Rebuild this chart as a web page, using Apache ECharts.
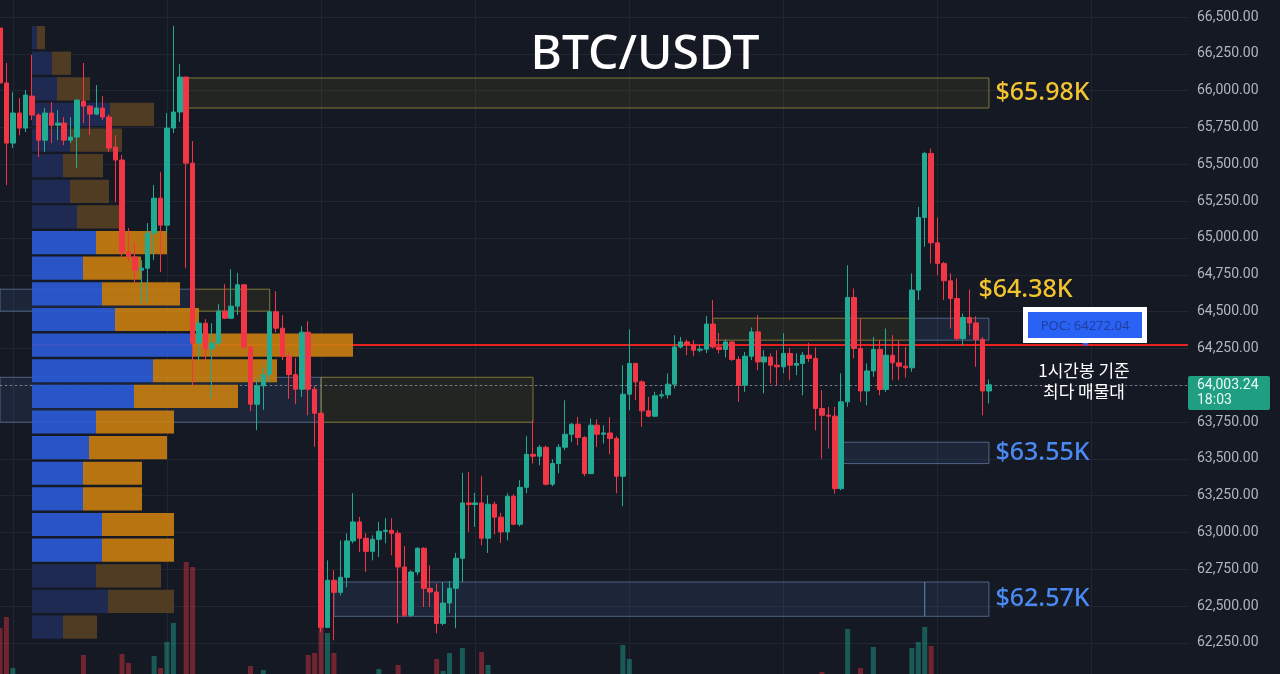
<!DOCTYPE html>
<html>
<head>
<meta charset="utf-8">
<title>BTC/USDT</title>
<script src="https://cdn.jsdelivr.net/npm/echarts@6.0.0/dist/echarts.min.js"></script>
<style>
    html, body { margin: 0; padding: 0; background: #151924; }
    #chart { width: 1280px; height: 674px; }
</style>
</head>
<body>
<div id="chart"></div>
<script>
// 1시간봉 OHLC (왼쪽부터)
const openPrices = [66425,66052,65644,65848,65746,65963,65834,65664,65848,65766,
    65780,65664,65685,65929,65895,65841,65882,65821,65617,65529,
    64904,64870,64781,64795,65033,65270,65087,65746,65855,66092,
    65508,64286,64421,64247,64286,64503,64455,64537,64682,64260,
    63871,63996,64072,64499,64387,64197,64072,63973,64360,63973,
    63810,62356,62676,62594,62696,62943,63072,62961,62872,62954,
    63008,63015,62995,62766,62438,62732,62893,62621,62596,62383,
    62521,62621,62825,63201,63190,63201,62961,63192,63104,63004,
    63246,63056,63307,63531,63518,63579,63328,63468,63579,63667,
    63735,63645,63400,63729,63667,63676,63638,63382,63939,64148,
    64023,63826,63790,63928,63935,64007,64260,64294,64275,64238,
    64245,64415,64260,64243,64294,64175,64000,64197,64362,64158,
    64192,64136,64125,64216,64136,64148,64204,64182,63842,63796,
    63790,63298,63887,64596,64250,63961,64097,64243,63971,64204,
    64152,64129,64118,64646,65139,65574,64967,64827,64709,64589,
    64317,64460,64423,64311,63961];
const highPrices = [66446,66188,65990,65950,66004,66242,65848,65882,65923,65868,
    65821,65821,65940,66188,65902,66038,65963,65841,65698,65563,
    65067,64972,64849,65101,65359,65447,65848,66439,66181,66095,
    65658,64449,64449,64421,64550,64686,64788,64763,64686,64265,
    64048,64122,64503,64639,64476,64224,64184,64401,64435,63996,
    63815,62811,62744,62947,62995,63267,63106,62995,62981,63072,
    63097,63097,63015,62907,62744,62900,62900,62777,62655,62664,
    62671,62861,63405,63411,63269,63382,63253,63210,63133,63267,
    63260,63355,63654,63762,63593,63590,63497,63600,63898,63744,
    63785,63654,63774,63769,63729,63783,63654,64136,64379,64152,
    64034,63921,63955,63966,64080,64340,64328,64311,64306,64272,
    64469,64578,64355,64311,64300,64197,64226,64392,64476,64238,
    64216,64238,64353,64252,64216,64226,64288,64256,63966,63853,
    63853,64080,64815,64657,64453,64148,64328,64306,64385,64340,
    64306,64260,64759,65211,65585,65608,65139,64838,64759,64725,
    64487,64650,64469,64328,64039];
const lowPrices = [66018,65359,65610,65698,65719,65800,65549,65583,65644,65664,
    65630,65644,65474,65780,65698,65834,65800,65583,65243,64870,
    64836,64700,64557,64564,64849,64768,65033,65712,65787,64795,
    64000,64170,64170,63908,64272,64449,64449,64476,64247,63824,
    63694,63833,64021,64360,64170,63908,63871,63921,63796,63582,
    62322,62350,62268,62574,62628,62927,62868,62732,62811,62834,
    62927,62845,62383,62426,62426,62710,62494,62494,62316,62370,
    62451,62350,62664,63004,63038,62913,62861,62988,62929,62947,
    63049,63042,63267,63468,63457,63321,63314,63402,63559,63615,
    63593,63382,63396,63581,63604,63531,63267,63178,63830,63898,
    63717,63783,63783,63910,63910,63978,64250,64204,64197,64224,
    64218,64250,64216,64188,64165,63887,63955,64170,64102,63944,
    64012,64000,64082,64034,64068,63932,64158,63694,63502,63570,
    63264,63287,63853,64182,63887,63864,64057,63932,63955,64034,
    64034,64052,64091,64578,64940,64827,64747,64578,64385,64306,
    64272,64340,64125,63796,63876];
const closePrices = [66052,65644,65848,65746,65970,65834,65664,65848,65766,65780,
    65664,65685,65936,65895,65841,65882,65821,65610,65529,64904,
    64870,64781,64795,65033,65270,65087,65746,65855,66092,65508,
    64286,64421,64247,64286,64503,64455,64537,64682,64260,63871,
    63996,64072,64499,64387,64197,64072,63973,64360,63973,63810,
    62356,62676,62594,62696,62943,63072,62961,62872,62954,63008,
    63015,62995,62766,62438,62732,62893,62621,62596,62383,62521,
    62621,62825,63201,63190,63201,62961,63192,63104,63004,63246,
    63056,63307,63531,63518,63579,63328,63468,63579,63667,63735,
    63645,63400,63729,63667,63676,63638,63382,63939,64148,64023,
    63826,63790,63928,63935,64007,64260,64294,64275,64238,64245,
    64415,64260,64243,64294,64175,64000,64197,64362,64158,64192,
    64136,64125,64216,64136,64148,64204,64182,63842,63796,63790,
    63298,63887,64596,64250,63961,64097,64243,63971,64204,64152,
    64129,64118,64646,65139,65574,64967,64827,64709,64589,64317,
    64460,64423,64311,63961,64003.24];
// 거래량 (BTC)
const volumes = [1660,1770,1260,820,760,900,850,700,640,520,
    580,460,980,1390,620,540,480,760,1050,1400,
    1310,980,860,1020,1380,1260,1520,1710,1150,2320,
    2270,1100,840,1000,760,640,720,680,900,1280,
    1080,1240,1120,760,820,880,740,960,1390,1410,
    1680,1610,1410,1040,980,1060,760,680,560,1250,
    420,480,1290,1100,920,700,860,640,1350,1230,
    1410,1120,1460,980,620,1420,1290,640,700,820,
    560,900,1140,780,420,760,500,460,860,400,
    480,820,760,440,360,520,900,1490,1350,720,
    860,460,540,300,520,1060,380,320,360,280,
    740,860,420,380,460,880,720,680,820,600,
    520,480,640,500,360,620,440,1100,1220,760,
    1180,1190,1650,1160,1260,820,1470,940,1000,720,
    640,480,1460,1520,1670,1480,1080,900,860,1000,
    720,680,620,1150,420];
const futureBars = 31; // 오른쪽 빈 공간

// 매물대 (Volume Profile) — 가격 구간별 매수/매도 거래량
const profileLow  = [62270,62444,62618,62792,62966,63140,63314,63488,63662,63836,64010,64184,
    64358,64532,64706,64880,65054,65228,65402,65576,65750,65924,66098,66272];
const profileHigh = [62444,62618,62792,62966,63140,63314,63488,63662,63836,64010,64184,64358,
    64532,64706,64880,65054,65228,65402,65576,65750,65924,66098,66272,66446];
const profileBuy  = [310,760,640,700,700,510,510,570,640,1020,1210,1600,
    830,700,510,640,450,380,310,380,780,250,200,50];
const profileSell = [340,660,650,720,720,590,590,780,780,1040,1240,1610,
    840,780,580,710,420,390,400,520,440,330,190,80];
const valueAreaLow = 62792;
const valueAreaHigh = 65054;
const pocPrice = 64272.04;
const lastPrice = 64003.24;

// 지지/저항 박스: [시작봉, 끝봉, 하단, 상단, 종류, 라벨]
const zoneStart = [29, 0, 30, 0, 50, 111, 142, 131, 52, 144];
const zoneEnd   = [154, 30, 42, 50, 83, 142, 154, 154, 144, 154];
const zoneLow   = [65882, 64503, 64503, 63749, 63749, 64306, 64306, 63468, 62431, 62431];
const zoneHigh  = [66086, 64652, 64652, 64054, 64054, 64455, 64455, 63613, 62664, 62664];
const zoneKind  = ['y', 'b', 'y', 'b', 'y', 'y', 'b', 'b', 'b', 'b'];
const zoneLabel = ['$65.98K', '', '', '', '', '', '$64.38K', '$63.55K', '', '$62.57K'];

// 시간축 (1시간 간격)
const startTime = Date.UTC(2024, 5, 10, 22);
const times = [];
for (let i = 0; i < openPrices.length + futureBars; i++) {
    const d = new Date(startTime + i * 3600000);
    const pad = n => String(n).padStart(2, '0');
    times.push(pad(d.getUTCMonth() + 1) + '-' + pad(d.getUTCDate()) + ' ' + pad(d.getUTCHours()) + ':00');
}

const UP = '#22ab94';
const DOWN = '#f23645';

const candleData = openPrices.map((o, i) => [o, closePrices[i], lowPrices[i], highPrices[i]]);
const volumeData = volumes.map((v, i) => ({
    value: v,
    itemStyle: { color: closePrices[i] >= openPrices[i] ? 'rgba(34,171,148,0.45)' : 'rgba(242,54,69,0.42)' }
}));
const profileData = profileLow.map((lo, i) => [lo, profileHigh[i], profileBuy[i], profileSell[i]]);

const zoneStyle = {
    y: { color: 'rgba(130,125,20,0.13)', borderColor: 'rgba(160,150,60,0.75)', borderWidth: 1 },
    b: { color: 'rgba(60,100,150,0.18)', borderColor: 'rgba(110,135,175,0.65)', borderWidth: 1 }
};
const zoneAreas = zoneStart.map((s, i) => {
    const first = {
        name: zoneLabel[i],
        coord: [times[s], zoneHigh[i]],
        itemStyle: zoneStyle[zoneKind[i]],
        label: { show: false }
    };
    if (zoneLabel[i]) {
        first.label = {
            show: true,
            position: 'right',
            distance: 6,
            color: zoneKind[i] === 'y' || zoneLabel[i] === '$64.38K' ? '#f4c430' : '#4a8af4',
            fontSize: 25,
            fontFamily: 'Noto Sans',
            fontWeight: 500
        };
        if (zoneLabel[i] === '$64.38K') first.label.offset = [-17, -39];
    }
    return [first, { coord: [times[zoneEnd[i]], zoneLow[i]] }];
});

const chart = echarts.init(document.getElementById('chart'));
chart.setOption({
    backgroundColor: '#151924',
    animation: false,
    grid: [
        { left: 0, right: 92, top: -19.8, bottom: -5.8, containLabel: false, outerBoundsMode: 'none' },   // 캔들
        { left: 0, right: 92, top: 520, bottom: -120, containLabel: false, outerBoundsMode: 'none' },     // 거래량
        { left: 32, width: 330, top: -19.8, bottom: -5.8, containLabel: false, outerBoundsMode: 'none' }  // 매물대
    ],
    xAxis: [
        {
            type: 'category', gridIndex: 0, data: times, boundaryGap: false,
            axisLine: { show: false }, axisTick: { show: false }, axisLabel: { show: false },
            splitLine: {
                show: true,
                interval: (idx, val) => val.endsWith(' 00:00'),
                lineStyle: { color: '#222631', width: 1 }
            }
        },
        { type: 'category', gridIndex: 1, data: times, boundaryGap: false, show: false },
        { type: 'value', gridIndex: 2, min: 0, max: 3300, show: false }
    ],
    yAxis: [
        {
            type: 'value', gridIndex: 0, position: 'right', scale: true,
            min: 62000, max: 66750, interval: 250,
            axisLine: { show: false }, axisTick: { show: false },
            axisLabel: {
                color: '#b2b5be', fontSize: 14, fontFamily: 'Roboto', margin: 9,
                padding: [4, 0, 0, 0],
                showMinLabel: false,
                formatter: v => v.toLocaleString('en-US', { minimumFractionDigits: 2, maximumFractionDigits: 2 })
            },
            splitLine: { lineStyle: { color: '#222631', width: 1 } }
        },
        { type: 'value', gridIndex: 1, min: 0, max: 2740, show: false },
        { type: 'value', gridIndex: 2, min: 62000, max: 66750, show: false }
    ],
    graphic: [
        {
            type: 'text', x: 645, y: 55, z: 10,
            style: { text: 'BTC/USDT', fill: '#ffffff', font: '500 48px "Noto Sans"', align: 'center', verticalAlign: 'middle', textAlign: 'center', textVerticalAlign: 'middle' }
        },
        // POC 박스
        { type: 'rect', z: 10, shape: { x: 1023, y: 307, width: 124, height: 36 }, style: { fill: '#ffffff' } },
        { type: 'rect', z: 11, shape: { x: 1028, y: 312, width: 114, height: 26 }, style: { fill: '#2962f5' } },
        {
            type: 'text', x: 1085, y: 326, z: 12,
            style: { text: 'POC: ' + pocPrice.toFixed(2), fill: '#22409a', font: '13px "Noto Sans"', align: 'center', verticalAlign: 'middle', textAlign: 'center', textVerticalAlign: 'middle' }
        },
        { type: 'polygon', z: 12, shape: { points: [[1082, 343], [1089, 343], [1085.5, 346.5]] }, style: { fill: '#2962f5' } },
        {
            type: 'text', x: 1084, y: 381, z: 10,
            style: { text: '1시간봉 기준\n최다 매물대', fill: '#ffffff', font: '17px "Noto Sans CJK KR"', lineHeight: 21, align: 'center', verticalAlign: 'middle', textAlign: 'center', textVerticalAlign: 'middle' }
        },
        // 현재가 태그
        { type: 'rect', z: 10, shape: { x: 1188, y: 376, width: 82, height: 34, r: 2 }, style: { fill: '#1f9e82' } },
        {
            type: 'text', x: 1197, y: 393, z: 11,
            style: { text: lastPrice.toLocaleString('en-US', { minimumFractionDigits: 2 }) + '\n18:03', fill: '#eafaf5', font: '14px Roboto', lineHeight: 15, align: 'left', verticalAlign: 'middle', textAlign: 'left', textVerticalAlign: 'middle' }
        }
    ],
    series: [
        {
            name: 'BTC/USDT',
            type: 'candlestick',
            xAxisIndex: 0, yAxisIndex: 0,
            z: 3,
            barWidth: 5,
            data: candleData,
            itemStyle: { color: UP, color0: DOWN, borderColor: UP, borderColor0: DOWN, borderWidth: 1 },
            markArea: { silent: true, data: zoneAreas },
            markLine: {
                silent: true,
                symbol: ['none', 'none'],
                z: 1,
                label: { show: false },
                data: [
                    [
                        { coord: [times[5], pocPrice], lineStyle: { color: '#e8221d', width: 2, type: 'solid' } },
                        { coord: [times[times.length - 1], pocPrice] }
                    ],
                    { yAxis: lastPrice, lineStyle: { color: '#7d818d', width: 1, type: [2, 3] } }
                ]
            }
        },
        {
            name: '거래량',
            type: 'bar',
            xAxisIndex: 1, yAxisIndex: 1,
            z: 1,
            barWidth: 5,
            data: volumeData
        },
        {
            name: '매물대',
            type: 'custom',
            xAxisIndex: 2, yAxisIndex: 2,
            z: 2,
            data: profileData,
            encode: { x: [2, 3], y: [0, 1] },
            renderItem: (params, api) => {
                const lo = api.value(0), hi = api.value(1), buy = api.value(2), sell = api.value(3);
                const inVA = lo >= valueAreaLow && hi <= valueAreaHigh;
                const a = api.coord([0, hi]);
                const b = api.coord([buy, lo]);
                const c = api.coord([buy + sell, lo]);
                const top = a[1] + 1, h = b[1] - a[1] - 2.4;
                return {
                    type: 'group',
                    children: [
                        { type: 'rect', shape: { x: a[0], y: top, width: b[0] - a[0], height: h }, style: { fill: inVA ? '#2a5bd8' : '#1f2c57', opacity: 0.9 } },
                        { type: 'rect', shape: { x: b[0], y: top, width: c[0] - b[0], height: h }, style: { fill: inVA ? '#c97e10' : '#574024', opacity: 0.9 } }
                    ]
                };
            }
        }
    ]
});
</script>
</body>
</html>
